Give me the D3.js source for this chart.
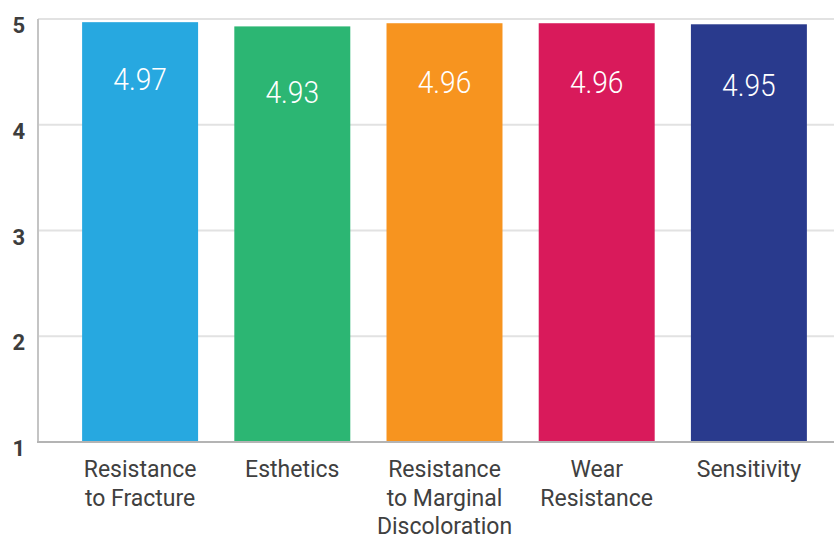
<!DOCTYPE html>
<html>
<head>
<meta charset="utf-8">
<script src="https://cdn.jsdelivr.net/npm/d3@7"></script>
<style>
  html, body { margin: 0; padding: 0; background: #fff; }
  svg { display: block; }
</style>
</head>
<body>
<svg id="chart" width="834" height="540"></svg>
<script>
const categories = [
  ["Resistance", "to Fracture"],
  ["Esthetics"],
  ["Resistance", "to Marginal", "Discoloration"],
  ["Wear", "Resistance"],
  ["Sensitivity"]
];
const values = [4.97, 4.93, 4.96, 4.96, 4.95];
const valueLabels = ["4.97", "4.93", "4.96", "4.96", "4.95"];
const barColors = ["#27A8E0", "#2CB673", "#F7941F", "#D91A5B", "#293A8D"];
const yTicks = [1, 2, 3, 4, 5];

const svg = d3.select("#chart");
const W = 834;
const axisX = 38;

const x = d3.scaleBand()
  .domain(d3.range(values.length))
  .range([64, 825])
  .paddingInner(0.238)
  .paddingOuter(0.119);

const y = d3.scaleLinear().domain([1, 5]).range([442, 19]);

// gridlines
svg.append("g")
  .selectAll("line")
  .data(yTicks.filter(t => t > 1))
  .join("line")
  .attr("x1", axisX).attr("x2", W)
  .attr("y1", d => y(d)).attr("y2", d => y(d))
  .attr("stroke", "#e2e2e2").attr("stroke-width", 2);

// bars
svg.append("g")
  .selectAll("rect")
  .data(values)
  .join("rect")
  .attr("x", (d, i) => x(i))
  .attr("width", x.bandwidth())
  .attr("y", d => y(d))
  .attr("height", d => y(1) - y(d))
  .attr("fill", (d, i) => barColors[i]);

// axis lines
svg.append("line")
  .attr("x1", axisX).attr("x2", axisX)
  .attr("y1", y(5)).attr("y2", y(1))
  .attr("stroke", "#c4c4c4").attr("stroke-width", 2);
svg.append("line")
  .attr("x1", axisX - 1).attr("x2", W)
  .attr("y1", y(1)).attr("y2", y(1))
  .attr("stroke", "#b4b4b4").attr("stroke-width", 2);

// y tick labels
svg.append("g")
  .selectAll("text")
  .data(yTicks)
  .join("text")
  .attr("x", 25)
  .attr("y", d => y(d) + 14)
  .attr("text-anchor", "end")
  .attr("font-family", "Roboto, 'Liberation Sans', sans-serif")
  .attr("font-weight", 700)
  .attr("font-size", 22)
  .attr("fill", "#3d3d3d")
  .text(d => d);

// value labels (placed relative to bar top, exaggerated as in the original)
const labelY = d => y(5) + 61 + 3.07 * (y(d) - y(5));
svg.append("g")
  .selectAll("g")
  .data(values)
  .join("g")
  .attr("transform", (d, i) => `translate(${x(i) + x.bandwidth() / 2},${labelY(d)}) scale(0.88,1)`)
  .append("text")
  .attr("text-anchor", "middle")
  .attr("font-family", "Roboto, sans-serif")
  .attr("font-weight", 300)
  .attr("font-size", 32)
  .attr("fill", "#ffffff")
  .text((d, i) => valueLabels[i]);

// category labels
const cat = svg.append("g")
  .selectAll("text")
  .data(categories)
  .join("text")
  .attr("x", (d, i) => x(i) + x.bandwidth() / 2)
  .attr("y", 477)
  .attr("text-anchor", "middle")
  .attr("font-family", "Roboto, 'Liberation Sans', sans-serif")
  .attr("font-size", 23)
  .attr("fill", "#404040");
cat.selectAll("tspan")
  .data(d => d)
  .join("tspan")
  .attr("x", function() { return d3.select(this.parentNode).attr("x"); })
  .attr("dy", (d, j) => j === 0 ? 0 : 28.5)
  .text(d => d);
</script>
</body>
</html>
